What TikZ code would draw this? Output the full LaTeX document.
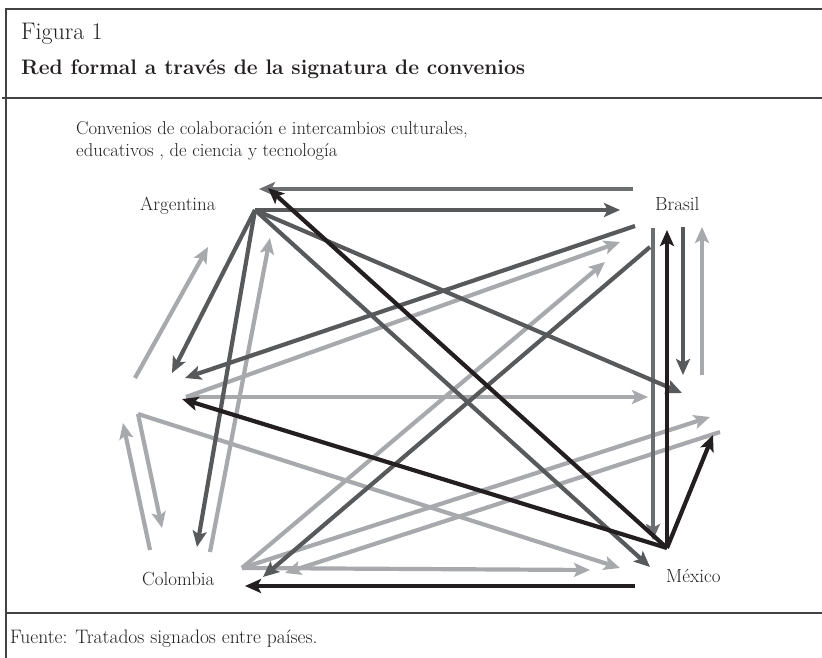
\documentclass[tikz,border=0pt]{standalone}
\usepackage{tikz}
\usetikzlibrary{arrows.meta}

\definecolor{ink}{HTML}{231F20}
\definecolor{darkgray}{HTML}{58595B}
\definecolor{midgray}{HTML}{6D6E71}
\definecolor{lightgray}{HTML}{A7A9AC}

\tikzset{
	link/.style={line width=4.2pt, -{Stealth[length=16pt,width=14pt,inset=3.5pt]}},
	blackarrow/.style={link, draw=ink},
	darkarrow/.style={link, draw=darkgray},
	midarrow/.style={link, draw=midgray},
	lightarrow/.style={link, draw=lightgray},
	framerule/.style={draw=ink!85, line width=1.4pt},
	country/.style={inner sep=0pt, anchor=base west, text=ink, font=\fontsize{19}{23}\selectfont}
}

\begin{document}
\begin{tikzpicture}[x=1pt,y=-1pt]
	\useasboundingbox (0,0) rectangle (822,658);
	% frame
	\draw[framerule] (6,658) -- (6,9) -- (822,9);
	\draw[framerule] (2,98) -- (822,98);
	\draw[framerule] (6,613) -- (822,613);
	% titles
	\node[country, font=\fontsize{24}{28}\selectfont] (fig) at (21,40) {Figura 1};
	\node[country, font=\fontsize{21}{25}\bfseries\selectfont] (title) at (21,75) {Red formal a través de la signatura de convenios};
	\node[country, font=\fontsize{18.6}{22}\selectfont] (sub1) at (76,135) {Convenios de colaboración e intercambios culturales,};
	\node[country, font=\fontsize{18.6}{22}\selectfont] (sub2) at (76,157) {educativos , de ciencia y tecnología};
	\node[country, font=\fontsize{19.5}{23}\selectfont] (src) at (10,643) {Fuente: Tratados signados entre países.};
	% countries
	\node[country] (argentina) at (140,210) {Argentina};
	\node[country] (brasil) at (655,210) {Brasil};
	\node[country] (colombia) at (142,585) {Colombia};
	\node[country] (mexico) at (666,582) {México};
	% end points
	\foreach \n/\x/\y in {arg/255/210, mex/667/548, hubL/186/397, hubC/242/568, hubW/138/414,
		braT/633/189, argT/259/189, braE/620/210,
		argB/268/188, midB/182/399, braB/667/230, mexR/713/435, mexC/635/586, colB/245/586,
		braV1/653/228, mexV1/653/540, braV2/683/227, braV2e/683/375, braV3s/702/375, braV3/702/227,
		braL/635/226, midD/185/378, braC/650/247, colD/263/577,
		braG1/620/242, mexG1/648/397, braG2/605/262, mexG2/590/570, mexG3/710/417,
		mexG4/720/432, colG/285/573, mexG5/620/568, colW/162/528,
		colW2/150/550, midW/123/423, midW2/135/378, argW/208/247,
		midA/172/373, colA/197/547, colA2/210/552, argA/270/238, mexA/682/393, mexA2/650/567}
		\coordinate (\n) at (\x,\y);
	% light links
	\foreach \a/\b in {braV3s/braV3, hubL/braG1, hubL/mexG1, hubC/braG2, hubC/mexG2, hubC/mexG3,
		mexG4/colG, hubW/mexG5, hubW/colW, colW2/midW, midW2/argW, colA2/argA}
		\draw[lightarrow] (\a) -- (\b);
	% gray links
	\draw[midarrow] (braT) -- (argT);
	\draw[midarrow] (braV1) -- (mexV1);
	\foreach \a/\b in {arg/braE, braV2/braV2e, braL/midD, braC/colD, arg/midA, arg/colA, arg/mexA, arg/mexA2}
		\draw[darkarrow] (\a) -- (\b);
	% black links
	\foreach \a/\b in {mex/argB, mex/midB, mex/braB, mex/mexR, mexC/colB}
		\draw[blackarrow] (\a) -- (\b);
\end{tikzpicture}
\end{document}
